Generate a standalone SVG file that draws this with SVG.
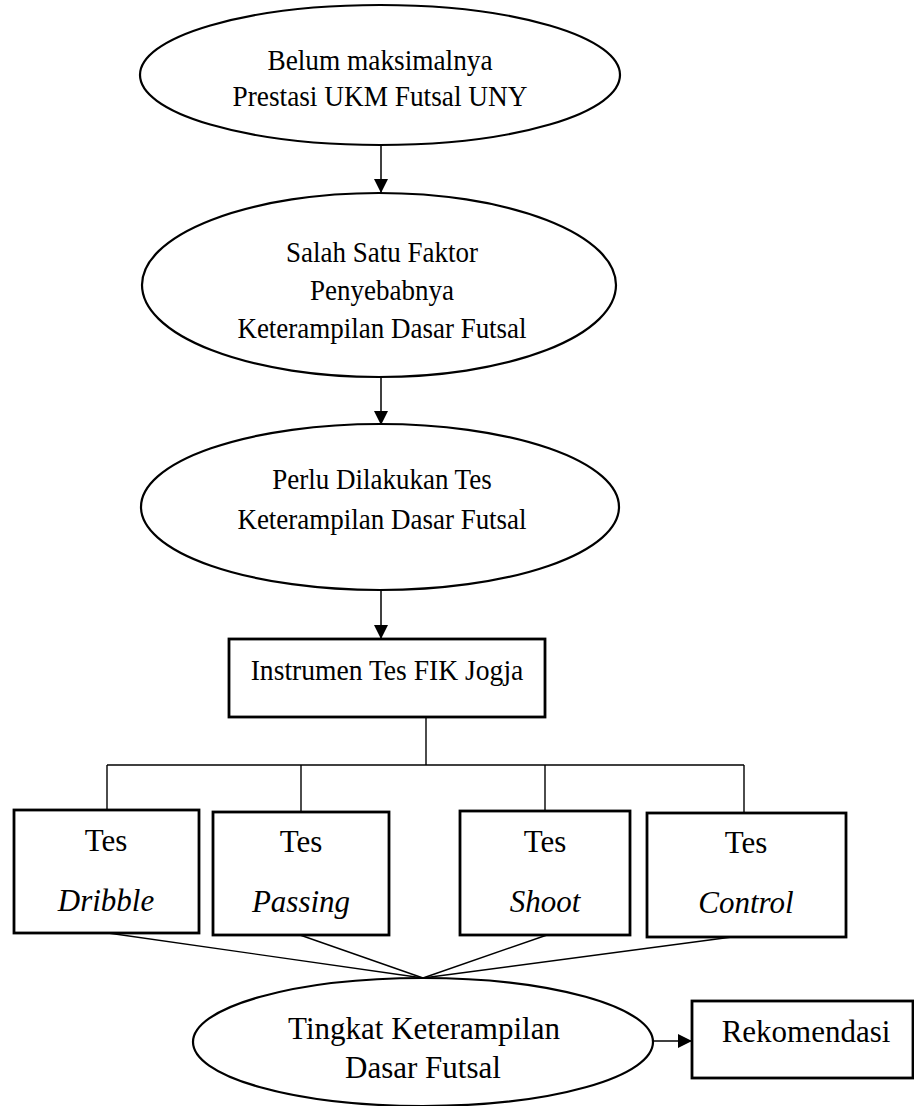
<svg xmlns="http://www.w3.org/2000/svg" width="914" height="1106" viewBox="0 0 914 1106">
<defs>
<marker id="ah" markerUnits="userSpaceOnUse" markerWidth="14" markerHeight="14" viewBox="0 0 14 14" refX="14" refY="7" orient="auto">
<path d="M0,0 L14,7 L0,14 Z" fill="#000"/>
</marker>
<style>
.el{fill:#fff;stroke:#000;stroke-width:2.2}
.bx{fill:#fff;stroke:#000;stroke-width:2.8}
.ln{fill:none;stroke:#000;stroke-width:1.4}
.ar{fill:none;stroke:#000;stroke-width:1.5;marker-end:url(#ah)}
.it{font-style:italic}
</style>
</defs>
<g id="connectors">
<line class="ar" x1="381" y1="145" x2="381" y2="193"/>
<line class="ar" x1="381" y1="377" x2="381" y2="425"/>
<line class="ar" x1="381" y1="590" x2="381" y2="639"/>
<polyline class="ln" points="426,717 426,765"/>
<line class="ln" x1="107" y1="765" x2="744" y2="765"/>
<line class="ln" x1="107" y1="765" x2="107" y2="810"/>
<line class="ln" x1="301" y1="765" x2="301" y2="812"/>
<line class="ln" x1="545" y1="765" x2="545" y2="811"/>
<line class="ln" x1="744" y1="765" x2="744" y2="813"/>
<line class="ln" x1="108" y1="933" x2="423" y2="978"/>
<line class="ln" x1="300" y1="935" x2="423" y2="978"/>
<line class="ln" x1="547" y1="935" x2="423" y2="978"/>
<line class="ln" x1="732" y1="937" x2="423" y2="978"/>
<line class="ar" x1="653" y1="1041" x2="692" y2="1041"/>
</g>
<g font-family="Liberation Serif, Times New Roman, serif" font-size="30" text-anchor="middle" fill="#000">
<g id="n1">
<ellipse class="el" cx="380" cy="75" rx="240" ry="70"/>
<g transform="translate(380,0) scale(0.91,1)">
<text x="0" y="70">Belum maksimalnya</text>
<text x="0" y="106">Prestasi UKM Futsal UNY</text>
</g>
</g>
<g id="n2">
<ellipse class="el" cx="379" cy="285" rx="237" ry="92"/>
<g transform="translate(382,0) scale(0.9,1)">
<text x="0" y="262">Salah Satu Faktor</text>
<text x="0" y="300">Penyebabnya</text>
<text x="0" y="338">Keterampilan Dasar Futsal</text>
</g>
</g>
<g id="n3">
<ellipse class="el" cx="380" cy="507" rx="239" ry="83"/>
<g transform="translate(382,0) scale(0.9,1)">
<text x="0" y="489">Perlu Dilakukan Tes</text>
<text x="0" y="529">Keterampilan Dasar Futsal</text>
</g>
</g>
<g id="n4">
<rect class="bx" x="229" y="639" width="316" height="78"/>
<g transform="translate(387,0) scale(0.92,1)">
<text x="0" y="680">Instrumen Tes FIK Jogja</text>
</g>
</g>
<g font-size="31">
<g id="n5">
<rect class="bx" x="14" y="810" width="185" height="123"/>
<text x="106" y="851">Tes</text>
<text class="it" x="106" y="911">Dribble</text>
</g>
<g id="n6">
<rect class="bx" x="213" y="812" width="176" height="123"/>
<text x="301" y="852">Tes</text>
<text class="it" x="301" y="912">Passing</text>
</g>
<g id="n7">
<rect class="bx" x="460" y="811" width="170" height="124"/>
<text x="545" y="852">Tes</text>
<text class="it" x="545" y="912">Shoot</text>
</g>
<g id="n8">
<rect class="bx" x="647" y="813" width="199" height="124"/>
<text x="746" y="853">Tes</text>
<text class="it" x="746" y="913">Control</text>
</g>
<g id="n9">
<ellipse class="el" cx="423" cy="1042" rx="230" ry="64"/>
<text x="424" y="1039">Tingkat Keterampilan</text>
<text x="423" y="1078">Dasar Futsal</text>
</g>
<g id="n10">
<rect class="bx" x="692" y="1001" width="221" height="77"/>
<text x="806" y="1042">Rekomendasi</text>
</g>
</g>
</g>
</svg>
